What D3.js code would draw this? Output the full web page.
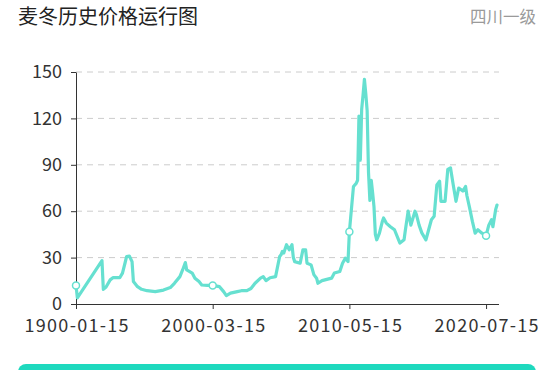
<!DOCTYPE html>
<html><head><meta charset="utf-8">
<script src="https://cdn.jsdelivr.net/npm/d3@7"></script>
<style>
html,body{margin:0;padding:0;background:#fff;}
svg{display:block;}
</style></head>
<body>
<svg id="c" width="554" height="370"></svg>
<script>
const title = "麦冬历史价格运行图";
const grade = "四川一级";
const xTickIndex = [0, 100, 200, 300];
const xTickLabels = ["1900-01-15", "2000-03-15", "2010-05-15", "2020-07-15"];
const yTicks = [0, 30, 60, 90, 120, 150];
const lastIndex = 308;
const pointIndex = [0,1,19,20,22,25,27,32,34,36,37,39,41,42,45,48,52,58,64,69,72,76,78,80,81,85,87,90,92,96,100,105,108,110,113,118,121,125,128,131,135,137,139,142,146,148,149,150,151,152,154,156,158,159,160,164,166,168,169,172,174,176,177,180,187,189,193,195,197,199,200,203,205,206,207,208,209,210,211,212,213,214,215,216,217,218,219,220,222,224,225,227,230,233,236,237,240,241,243,245,248,249,251,253,256,258,260,262,264,266,267,270,272,274,276,278,280,283,285,286,288,290,292,294,297,300,302,304,305,307,308];
const price = [12,4,28,9.5,11,15.6,17,17,20,27,30.7,31,27.4,14.5,11.2,9.5,8.6,8,9,10.6,13.4,17.7,22,26.8,22,20,16.7,14.5,12.3,12,12,11.2,8,5.4,7,8,8.6,8.6,10,13.4,16.7,17.7,15.1,17,17.7,26.4,30.7,31.8,34,33,38.3,35,38.3,30,27.4,26.4,35,35,26.4,25.3,19,16.7,13.4,15.1,16.7,20,21,26.4,29.6,27.4,46.7,76,78,80,121.5,93,125.8,135,145.3,136,125,85,67,80,72,63,45,41.5,45.8,53,55.6,52.3,50,48,41.5,39.4,41.5,48,60,51,60,58,51,46,41.5,48,54.5,56.7,77,79.4,66.4,66.4,87,88,77,66.4,75,73,76,70,62,53.4,45.8,48,45.8,44.2,51,54.5,50,61,64];

const data = pointIndex.map((d, i) => ({i: d, v: price[i]}));
const svg = d3.select("#c");
const lineColor = "#66e0d0";
const axisFont = "'Noto Sans CJK SC', 'Noto Sans', sans-serif";

const x = d3.scaleLinear().domain([0, lastIndex]).range([76, 497]);
const y = d3.scaleLinear().domain([0, 150]).range([304, 72]);

// title
svg.append("text").attr("x", 18).attr("y", 24)
  .attr("font-family", "'Noto Sans CJK SC', sans-serif").attr("font-size", 20)
  .attr("fill", "#222").text(title);
svg.append("text").attr("x", 536).attr("y", 23).attr("text-anchor", "end")
  .attr("font-family", "'Noto Sans CJK SC', sans-serif").attr("font-size", 16.5)
  .attr("fill", "#9a9a9a").text(grade);

// grid
svg.append("g").selectAll("line").data(yTicks.filter(d => d > 0)).join("line")
  .attr("x1", 76).attr("x2", 499).attr("y1", d => y(d)).attr("y2", d => y(d))
  .attr("stroke", "#cccccc").attr("stroke-width", 1).attr("stroke-dasharray", "6,5");

// y axis
const yAxis = svg.append("g").attr("transform", "translate(76,0)")
  .call(d3.axisLeft(y).tickValues(yTicks).tickSize(5).tickPadding(9).tickSizeOuter(0));
yAxis.select(".domain").attr("stroke", "#333");
yAxis.selectAll(".tick line").attr("stroke", "#333");
yAxis.selectAll("text").attr("font-family", axisFont).attr("font-size", 18).attr("fill", "#333");

// x axis
const xAxis = svg.append("g").attr("transform", "translate(0,304)")
  .call(d3.axisBottom(x).tickValues(xTickIndex).tickFormat((d, i) => xTickLabels[i]).tickSize(5).tickSizeOuter(0));
xAxis.select(".domain").attr("stroke", "#333").attr("d", "M76,0.5H499");
xAxis.selectAll(".tick line").attr("stroke", "#333");
xAxis.selectAll("text").attr("font-family", axisFont).attr("font-size", 18).attr("fill", "#333")
  .attr("y", 28).attr("dy", 0).attr("textLength", 104).attr("lengthAdjust", "spacing");

// line
svg.append("path").datum(data)
  .attr("fill", "none").attr("stroke", lineColor).attr("stroke-width", 3.2)
  .attr("stroke-linejoin", "round").attr("stroke-linecap", "round")
  .attr("d", d3.line().x(d => x(d.i)).y(d => y(d.v)));

// symbols at label positions
svg.append("g").selectAll("circle").data(data.filter(d => xTickIndex.includes(d.i))).join("circle")
  .attr("cx", d => x(d.i)).attr("cy", d => y(d.v)).attr("r", 3.5)
  .attr("fill", "#fff").attr("stroke", lineColor).attr("stroke-width", 1.5);

// bottom bar
svg.append("rect").attr("x", 18).attr("y", 364).attr("width", 518).attr("height", 20)
  .attr("rx", 8).attr("fill", "#1ed9be");
</script>
</body></html>
